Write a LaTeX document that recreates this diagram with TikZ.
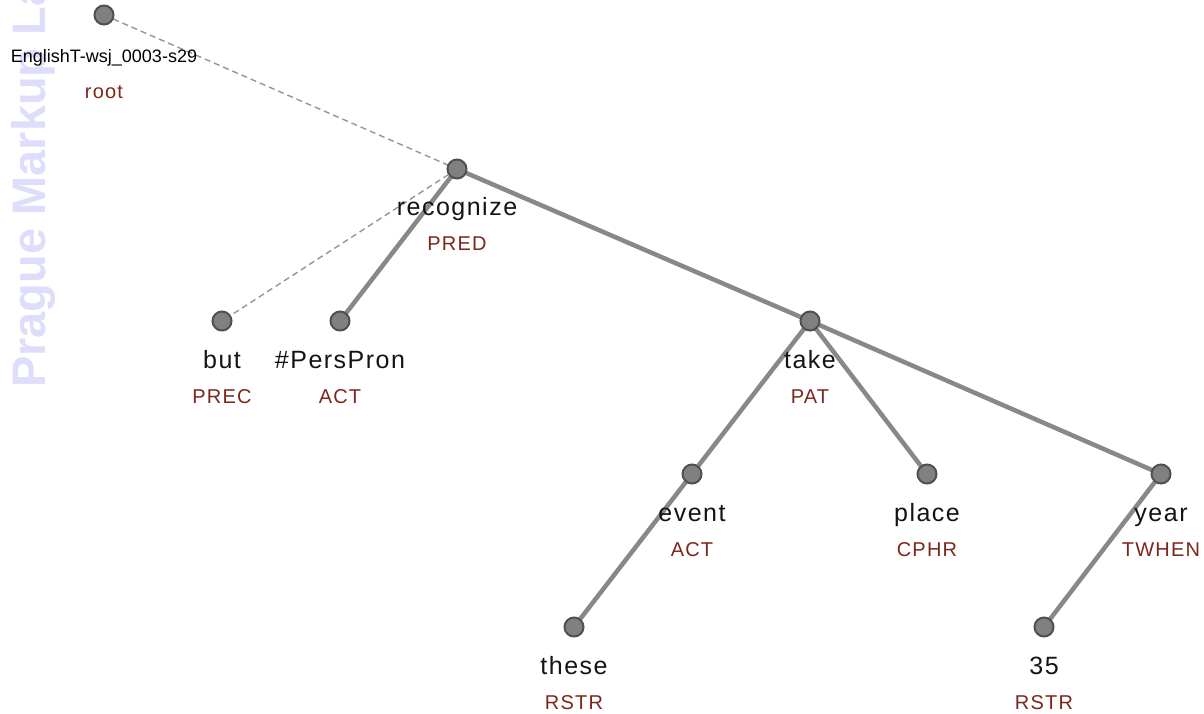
\documentclass[tikz,border=0pt]{standalone}
\usepackage{fontspec}
\setmainfont{Liberation Sans}
\newfontfamily\wordfont[LetterSpace=6]{Liberation Sans}
\newfontfamily\wmfont{Liberation Sans}
\definecolor{wmcol}{RGB}{222,222,252}
\definecolor{funccol}{RGB}{125,38,28}
\definecolor{edgecol}{RGB}{136,136,136}
\definecolor{dashcol}{RGB}{150,150,150}
\definecolor{dotfill}{RGB}{128,128,128}
\definecolor{dotborder}{RGB}{80,80,80}
\definecolor{wordcol}{RGB}{20,20,20}
\tikzset{
  dot/.style={circle, fill=dotfill, draw=dotborder, line width=2pt, minimum size=19pt, inner sep=0pt},
  word/.style={anchor=base, inner sep=0pt, text=wordcol, font=\wordfont\fontsize{25}{30}\selectfont},
  func/.style={anchor=base, inner sep=0pt, text=funccol, font=\wordfont\fontsize{20}{24}\selectfont},
  rootword/.style={anchor=base, inner sep=0pt, text=black, font=\fontsize{18}{22}\selectfont},
  solidedge/.style={draw=edgecol, line width=4.5pt},
  dashedge/.style={draw=dashcol, line width=1.4pt, dash pattern=on 6pt off 4pt},
}
\begin{document}
\begin{tikzpicture}[x=1pt, y=-1pt]
\useasboundingbox (0,0) rectangle (1204,713);
\clip (0,0) rectangle (1204,713);
\fill[white] (0,0) rectangle (1204,713);
% watermark
\node[rotate=90, anchor=base west, inner sep=0pt, text=wmcol, font=\wmfont\bfseries\fontsize{47}{50}\selectfont] (wm) at (45,388) {Prague Markup Lab};
% coordinates of dots
\coordinate (proot) at (104,15);
\coordinate (precognize) at (457,169);
\coordinate (pbut) at (222,321);
\coordinate (ppers) at (340,321);
\coordinate (ptake) at (810,321);
\coordinate (pevent) at (692,474);
\coordinate (pplace) at (927,474);
\coordinate (pyear) at (1161,474);
\coordinate (pthese) at (574,627);
\coordinate (p35) at (1044,627);
% edges
\draw[dashedge] (proot) -- (precognize);
\draw[dashedge] (precognize) -- (pbut);
\draw[solidedge] (precognize) -- (ppers);
\draw[solidedge] (precognize) -- (ptake);
\draw[solidedge] (ptake) -- (pevent);
\draw[solidedge] (ptake) -- (pplace);
\draw[solidedge] (ptake) -- (pyear);
\draw[solidedge] (pevent) -- (pthese);
\draw[solidedge] (pyear) -- (p35);
% dots
\node[dot] (root) at (proot) {};
\node[dot] (recognize) at (precognize) {};
\node[dot] (but) at (pbut) {};
\node[dot] (pers) at (ppers) {};
\node[dot] (take) at (ptake) {};
\node[dot] (event) at (pevent) {};
\node[dot] (place) at (pplace) {};
\node[dot] (year) at (pyear) {};
\node[dot] (these) at (pthese) {};
\node[dot] (n35) at (p35) {};
% labels
\node[rootword] (rootw) at (104,62) {EnglishT-wsj\_0003-s29};
\node[func] (rootf) at (104,98) {root};
\node[word] (recognizew) at (457,215) {recognize};
\node[func] (recognizef) at (457,250) {PRED};
\node[word] (butw) at (222,368) {but};
\node[func] (butf) at (222,403) {PREC};
\node[word] (persw) at (340,368) {\#PersPron};
\node[func] (persf) at (340,403) {ACT};
\node[word] (takew) at (810,368) {take};
\node[func] (takef) at (810,403) {PAT};
\node[word] (eventw) at (692,521) {event};
\node[func] (eventf) at (692,556) {ACT};
\node[word] (placew) at (927,521) {place};
\node[func] (placef) at (927,556) {CPHR};
\node[word] (yearw) at (1161,521) {year};
\node[func] (yearf) at (1161,556) {TWHEN};
\node[word] (thesew) at (574,674) {these};
\node[func] (thesef) at (574,709) {RSTR};
\node[word] (n35w) at (1044,674) {35};
\node[func] (n35f) at (1044,709) {RSTR};
\end{tikzpicture}
\end{document}
